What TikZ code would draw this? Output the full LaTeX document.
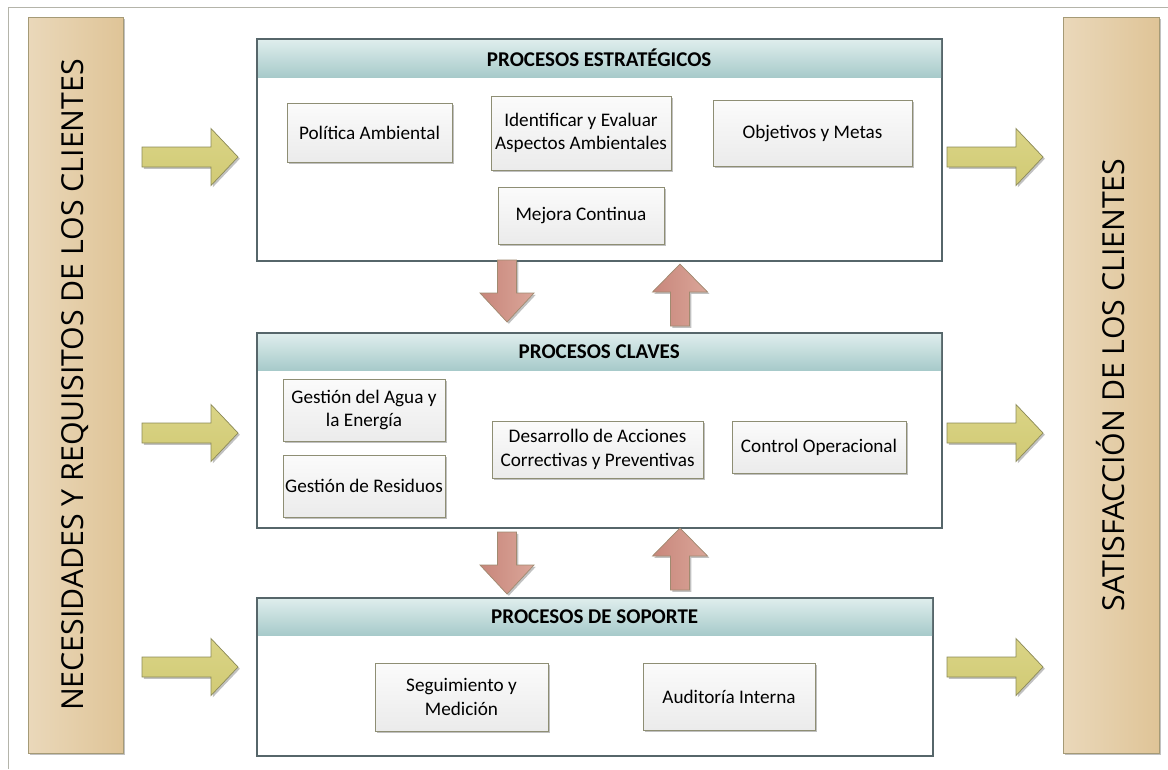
\documentclass[tikz,border=0pt]{standalone}
\usepackage{fontspec}
\setmainfont{Carlito}
\newfontfamily\sidefont{Open Sans}
\usetikzlibrary{shadows}

\definecolor{frameLine}{HTML}{B4B4AA}
\definecolor{tanL}{HTML}{EAD8BA}
\definecolor{tanR}{HTML}{DFC497}
\definecolor{tanLine}{HTML}{A59A76}
\definecolor{hdrT}{HTML}{DFEEED}
\definecolor{hdrB}{HTML}{A7CACA}
\definecolor{boxLine}{HTML}{56666A}
\definecolor{itemLine}{HTML}{8E8E74}
\definecolor{itemT}{HTML}{FBFBFB}
\definecolor{itemB}{HTML}{EBEBEB}
\definecolor{yelT}{HTML}{DAD486}
\definecolor{yelB}{HTML}{D1CA74}
\definecolor{yelLine}{HTML}{8C8A58}
\definecolor{redL}{HTML}{C8867B}
\definecolor{redR}{HTML}{DAA699}
\definecolor{redLine}{HTML}{A08A70}

\tikzset{
  softshadow/.style={drop shadow={shadow xshift=1.8pt, shadow yshift=-1.8pt, opacity=0.35, fill=black!70}},
  sidebar/.style={rectangle, draw=tanLine, line width=0.8pt, left color=tanL, right color=tanR, softshadow, inner sep=0pt},
  sidetext/.style={rotate=90, font=\sidefont\fontsize{30.3}{34}\selectfont, text=black},
  procbox/.style={rectangle, draw=boxLine, line width=1.2pt, fill=white, softshadow, inner sep=0pt, anchor=north west},
  hdrbox/.style={rectangle, top color=hdrT, bottom color=hdrB, inner sep=0pt, anchor=north west,
    font=\bfseries\fontsize{21}{24}\selectfont},
  boxedge/.style={draw=boxLine, line width=1.2pt},
  item/.style={rectangle, draw=itemLine, line width=0.8pt, top color=itemT, bottom color=itemB, softshadow,
    align=center, inner sep=0pt, font=\fontsize{19.2}{23.5}\selectfont},
  yelarrow/.style={draw=yelLine, line width=0.7pt, top color=yelT, bottom color=yelB, softshadow},
  redarrow/.style={draw=redLine, line width=0.7pt, left color=redL, right color=redR, softshadow},
  pics/rightblock/.style={code={
    \draw[yelarrow] (0,-10) -- (69,-10) -- (69,-28.5) -- (96,0) -- (69,28.5) -- (69,10) -- (0,10) -- cycle;}},
  pics/downblock/.style={code={
    \draw[redarrow] (-9.5,0) -- (9.5,0) -- (9.5,33) -- (27,33) -- (0,62) -- (-27,33) -- (-9.5,33) -- cycle;}},
  pics/upblock/.style={code={
    \draw[redarrow] (0,0) -- (27.5,28) -- (9.5,28) -- (9.5,62) -- (-9.5,62) -- (-9.5,28) -- (-27.5,28) -- cycle;}},
}

\begin{document}
\begin{tikzpicture}[x=1pt, y=-1pt]
\useasboundingbox (0,0) rectangle (1168,769);

% outer frame
\draw[frameLine, line width=1pt] (8,769) -- (8,7) -- (1168,7);

% side bars
\node[sidebar, minimum width=95pt, minimum height=736pt] (lbar) at (75.5,385) {};
\node[sidetext] (ltext) at (lbar.center) {NECESIDADES Y REQUISITOS DE LOS CLIENTES};
\node[sidebar, minimum width=96pt, minimum height=736pt] (rbar) at (1111,385) {};
\node[sidetext] (rtext) at (rbar.center) {SATISFACCIÓN DE LOS CLIENTES};

% strategic processes
\node[procbox, minimum width=684pt, minimum height=221pt] (est) at (257,39) {};
\node[hdrbox, minimum width=684pt, minimum height=38pt] (esth) at (257,39) {PROCESOS ESTRATÉGICOS};
\draw[boxedge] (est.north west) rectangle (est.south east);

% key processes
\node[procbox, minimum width=684pt, minimum height=194pt] (cla) at (257,333) {};
\node[hdrbox, minimum width=684pt, minimum height=37pt] (clah) at (257,333) {PROCESOS CLAVES};
\draw[boxedge] (cla.north west) rectangle (cla.south east);

% support processes
\node[procbox, minimum width=675pt, minimum height=157pt] (sop) at (257,598) {};
\node[hdrbox, minimum width=675pt, minimum height=37pt] (soph) at (257,598) {PROCESOS DE SOPORTE};
\draw[boxedge] (sop.north west) rectangle (sop.south east);

% items
\node[item, minimum width=165pt, minimum height=59pt] (pol) at (369.5,132.5) {Política Ambiental};
\node[item, minimum width=180pt, minimum height=74pt] (ide) at (581,133) {Identificar y Evaluar\\Aspectos Ambientales};
\node[item, minimum width=199pt, minimum height=66pt] (obj) at (812.5,133) {Objetivos y Metas};
\node[item, minimum width=166pt, minimum height=57pt] (mej) at (581,215.5) {Mejora Continua};

\node[item, minimum width=162pt, minimum height=62pt] (agua) at (364,410) {Gestión del Agua y\\la Energía};
\node[item, minimum width=162pt, minimum height=62pt] (res) at (364,486) {Gestión de Residuos};
\node[item, minimum width=211pt, minimum height=57pt] (des) at (597.5,449.5) {Desarrollo de Acciones\\Correctivas y Preventivas};
\node[item, minimum width=174pt, minimum height=52pt] (con) at (819,447) {Control Operacional};

\node[item, minimum width=173pt, minimum height=68pt] (seg) at (461.5,697) {Seguimiento y\\Medición};
\node[item, minimum width=172pt, minimum height=67pt] (aud) at (729,696.5) {Auditoría Interna};

% inputs and outputs
\pic at (142,157) {rightblock};
\pic at (142,433) {rightblock};
\pic at (142,667) {rightblock};
\pic at (947,157) {rightblock};
\pic at (947,433) {rightblock};
\pic at (947,667) {rightblock};

% links between levels
\pic at (507,260) {downblock};
\pic at (680,264) {upblock};
\pic at (507,532) {downblock};
\pic at (680,528) {upblock};
\end{tikzpicture}
\end{document}
